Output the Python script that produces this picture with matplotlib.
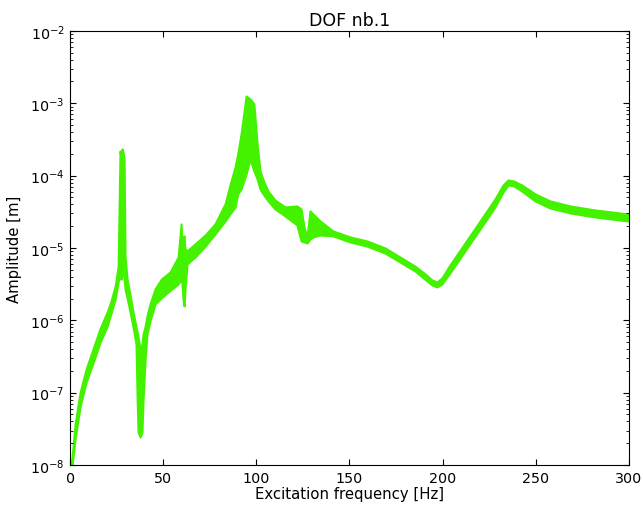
import matplotlib
matplotlib.use("Agg")
from matplotlib import pyplot as plt

# excitation frequency [Hz] and amplitude envelope [m] of the response band
freq = [0.5, 1.1, 2.7, 5.4, 8.6, 12.3, 16.0, 19.9, 22.0, 24.2, 25.8,
        26.8, 27.4, 27.9, 28.4, 29.0, 29.5, 30.6, 32.2, 33.8, 35.4,
        36.0, 36.5, 37.6, 38.6, 39.2, 40.3, 41.3, 42.9, 45.6, 49.0, 53.7,
        58.0, 59.6, 60.1, 60.6, 61.2, 61.7, 62.8, 67.1, 72.5, 77.8,
        83.2, 86.0, 88.6, 90.0, 91.8, 94.5, 96.6, 98.7, 100.4, 102.0,
        104.0, 106.3, 110.0, 115.4,
        121.8, 124.0, 125.6, 127.2, 128.8, 130.4, 134.2,
        141.1, 150.3, 159.4, 169.1, 177.1, 185.2, 190.5, 194.3, 197.0,
        199.6, 203.9, 212.0, 220.1, 228.1, 232.4, 235.1, 238.3, 242.6,
        249.6, 257.6, 268.4, 281.8, 299.5]
amp_upper = [1.0e-8, 1.33e-8, 3.7e-8, 1.02e-7, 2.12e-7, 4.0e-7, 7.6e-7, 1.30e-6, 1.85e-6, 2.98e-6, 5.6e-6,
             2.19e-4, 1.70e-4, 2.34e-4, 2.12e-4, 1.70e-4, 7.7e-6, 3.7e-6, 2.24e-6, 1.30e-6, 8.1e-7,
             6.9e-7, 5.9e-7, 4.0e-7, 4.7e-7, 6.5e-7, 8.3e-7, 1.15e-6, 1.68e-6, 2.71e-6, 3.73e-6, 4.66e-6,
             7.5e-6, 2.15e-5, 1.14e-5, 1.33e-5, 1.47e-5, 9.7e-6, 9.1e-6, 1.14e-5, 1.51e-5, 2.15e-5,
             4.06e-5, 7.7e-5, 1.32e-4, 2.0e-4, 3.77e-4, 1.26e-3, 1.15e-3, 9.8e-4, 2.74e-4, 1.16e-4,
             8.2e-5, 6.1e-5, 4.6e-5, 3.69e-5,
             3.81e-5, 3.46e-5, 1.95e-5, 1.42e-5, 3.25e-5, 2.95e-5, 2.36e-5,
             1.72e-5, 1.42e-5, 1.25e-5, 1.0e-5, 7.5e-6, 5.6e-6, 4.4e-6, 3.61e-6, 3.39e-6,
             3.85e-6, 5.8e-6, 1.17e-5, 2.36e-5, 4.75e-5, 7.4e-5, 8.7e-5, 8.4e-5, 7.4e-5,
             5.6e-5, 4.47e-5, 3.81e-5, 3.35e-5, 2.95e-5]
amp_lower = [1.0e-8, 1.0e-8, 2.3e-8, 6.5e-8, 1.40e-7, 2.57e-7, 4.9e-7, 8.3e-7, 1.26e-6, 1.97e-6, 3.39e-6,
             4.2e-6, 3.7e-6, 4.4e-6, 5.1e-6, 3.7e-6, 2.71e-6, 2.04e-6, 1.30e-6, 8.1e-7, 4.7e-7,
             8.2e-8, 2.86e-8, 2.44e-8, 2.86e-8, 8.2e-8, 2.92e-7, 6.5e-7, 9.8e-7, 1.68e-6, 2.05e-6, 2.6e-6,
             3.18e-6, 3.7e-6, 3.18e-6, 1.97e-6, 1.58e-6, 2.71e-6, 6.0e-6, 7.5e-6, 1.06e-5, 1.56e-5,
             2.36e-5, 3.0e-5, 3.69e-5, 5.6e-5, 6.5e-5, 1.05e-4, 1.70e-4, 1.16e-4, 9.0e-5, 6.5e-5,
             5.4e-5, 4.47e-5, 3.46e-5, 2.77e-5,
             2.08e-5, 1.25e-5, 1.21e-5, 1.17e-5, 1.33e-5, 1.42e-5, 1.51e-5,
             1.47e-5, 1.21e-5, 1.06e-5, 8.5e-6, 6.4e-6, 4.8e-6, 3.7e-6, 3.08e-6, 2.89e-6,
             3.18e-6, 4.5e-6, 9.1e-6, 1.83e-5, 3.69e-5, 5.9e-5, 7.4e-5, 7.2e-5, 6.1e-5,
             4.47e-5, 3.57e-5, 3.05e-5, 2.68e-5, 2.36e-5]

plt.rcParams['font.size'] = 10.3
plt.rcParams['axes.unicode_minus'] = False
plt.rcParams['xtick.direction'] = 'in'
plt.rcParams['ytick.direction'] = 'in'
plt.rcParams['xtick.top'] = True
plt.rcParams['ytick.right'] = True
plt.rcParams['xtick.major.size'] = 4
plt.rcParams['ytick.major.size'] = 4
plt.rcParams['xtick.minor.size'] = 2
plt.rcParams['ytick.minor.size'] = 2
plt.rcParams['xtick.major.pad'] = 4
plt.rcParams['ytick.major.pad'] = 4

fig = plt.figure(figsize=(6.43, 5.06), dpi=100)
ax = fig.add_axes([0.109, 0.079, 0.869, 0.858])

green = '#44f200'
ax.fill_between(freq, amp_lower, amp_upper, color=green, lw=1.5,
                edgecolor=green)

ax.set_yscale('log')
ax.set_xlim(0, 300)
ax.set_ylim(1e-8, 1e-2)
ax.set_xlabel("Excitation frequency [Hz]", fontsize=10.7, labelpad=1)
ax.set_ylabel("Amplitude [m]", fontsize=10.7, labelpad=6)
ax.set_title("DOF nb.1", fontsize=12.5, pad=4.5)

fig.savefig("out.png", dpi=100)
